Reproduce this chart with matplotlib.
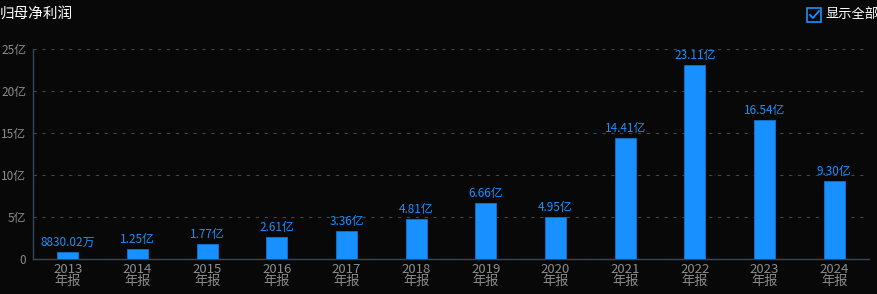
import matplotlib
matplotlib.use("Agg")
import matplotlib.pyplot as plt
from matplotlib.patches import Rectangle

plt.rcParams['font.family'] = ['Noto Sans CJK SC', 'DejaVu Sans']

years = ['2013', '2014', '2015', '2016', '2017', '2018', '2019', '2020', '2021', '2022', '2023', '2024']
values = [0.883002, 1.25, 1.77, 2.61, 3.36, 4.81, 6.66, 4.95, 14.41, 23.11, 16.54, 9.30]
labels = ['8830.02万', '1.25亿', '1.77亿', '2.61亿', '3.36亿', '4.81亿', '6.66亿', '4.95亿',
          '14.41亿', '23.11亿', '16.54亿', '9.30亿']
yticks = [0, 5, 10, 15, 20, 25]
ytick_labels = ['0', '5亿', '10亿', '15亿', '20亿', '25亿']

W, H = 877, 294
bg = '#080808'
fig = plt.figure(figsize=(W / 100, H / 100), dpi=100, facecolor=bg)
ax = fig.add_axes([33 / W, (H - 259) / H, (869 - 33) / W, (259 - 49) / H], facecolor=bg)

x = list(range(len(years)))
ax.bar(x, values, width=0.3, color='#1890ff', edgecolor='#1570c8', linewidth=0.6, zorder=3)
for xi, v, lab in zip(x, values, labels):
    ax.text(xi, v + 0.35, lab, ha='center', va='bottom', color='#1890ff', fontsize=8.5)

ax.set_xlim(-0.5, len(years) - 0.5)
ax.set_ylim(0, 25)
ax.set_yticks(yticks)
ax.set_yticklabels(ytick_labels)
ax.set_xticks(x)
ax.set_xticklabels([y + '\n年报' for y in years], linespacing=0.9)
ax.tick_params(axis='y', colors='#8c8c8c', labelsize=8.5, length=0, pad=5)
ax.tick_params(axis='x', colors='#8c8c8c', labelsize=9.5, length=0, pad=3)
for lbl in ax.get_yticklabels() + ax.get_xticklabels():
    lbl.set_color('#8c8c8c')

for s in ['top', 'right']:
    ax.spines[s].set_visible(False)
for s in ['left', 'bottom']:
    ax.spines[s].set_color('#34475c')
    ax.spines[s].set_linewidth(1)

ax.yaxis.grid(True, linestyle=(0, (3, 5)), color='#454545', linewidth=0.8, zorder=0)
ax.set_axisbelow(True)

fig.text(0 / W, 1 - 14 / H, '归母净利润', color='#ffffff', fontsize=10.5, ha='left', va='center')

# checkbox
cb = Rectangle((807 / W, 1 - 22 / H), 14 / W, 14 / H, transform=fig.transFigure,
               fill=False, edgecolor='#1890ff', linewidth=1.2)
fig.patches.append(cb)
fig.lines.append(plt.Line2D([810 / W, 813 / W, 819 / W], [1 - 15 / H, 1 - 18 / H, 1 - 11 / H],
                            transform=fig.transFigure, color='#1890ff', linewidth=1.3))
fig.text(826 / W, 1 - 15 / H, '显示全部数据', color='#ffffff', fontsize=9.5, ha='left', va='center')

fig.savefig('out.png', dpi=100, facecolor=bg)
